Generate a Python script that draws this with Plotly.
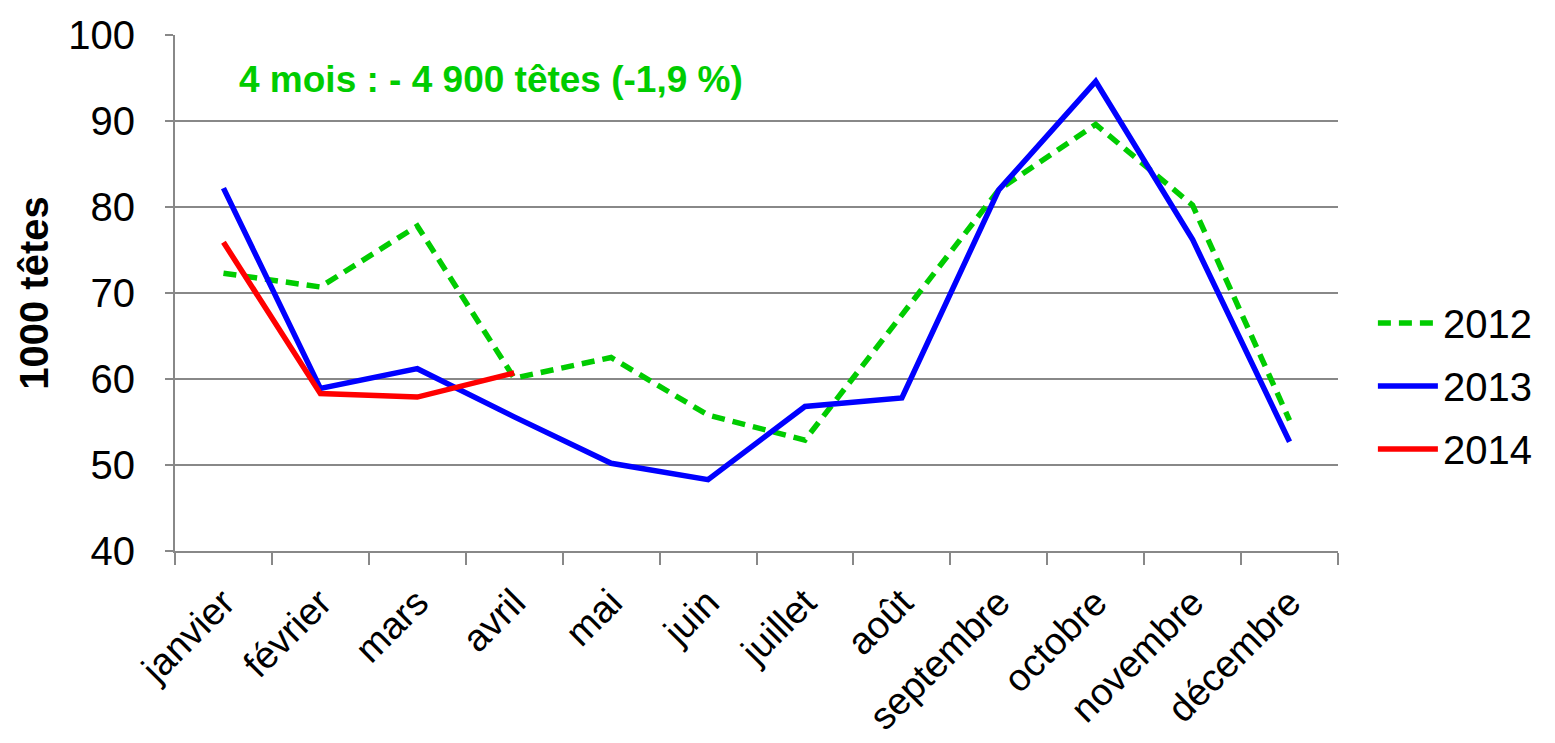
import plotly.graph_objects as go

months = ["janvier", "février", "mars", "avril", "mai", "juin", "juillet",
          "août", "septembre", "octobre", "novembre", "décembre"]

# 1000 têtes
y2012 = [72.3, 70.7, 77.8, 60.1, 62.5, 55.8, 52.9, 67.4, 82.0, 89.6, 80.2, 55.2]
y2013 = [82.2, 58.9, 61.2, 55.6, 50.2, 48.3, 56.8, 57.8, 82.0, 94.6, 76.2, 52.7]
y2014 = [75.9, 58.3, 57.9, 60.7]

fig = go.Figure()
fig.add_trace(go.Scatter(x=months, y=y2012, name="2012", mode="lines", legendgroup="a",
                         line=dict(color="#00CC00", width=5.5, dash="13px,8px")))
fig.add_trace(go.Scatter(x=months, y=y2013, name="2013", mode="lines", legendgroup="b",
                         line=dict(color="#0000FF", width=5.5)))
fig.add_trace(go.Scatter(x=months[:len(y2014)], y=y2014, name="2014", mode="lines",
                         legendgroup="c", line=dict(color="#FF0000", width=5.5)))

fig.add_annotation(text="<b>4 mois : - 4 900 têtes (-1,9 %)</b>",
                   xref="paper", yref="paper", x=0.053, y=0.913,
                   xanchor="left", yanchor="middle", showarrow=False,
                   font=dict(family="Liberation Sans", size=37, color="#00CC00"))

fig.update_xaxes(
    range=[-0.5, 11.5], automargin=False,
    tickangle=-45, tickson="boundaries", ticks="outside", ticklen=12,
    tickcolor="#888888", tickwidth=2, showline=True, linecolor="#888888",
    linewidth=2, showgrid=False, ticklabelstandoff=12,
    tickfont=dict(family="Liberation Sans", size=38, color="black"),
)
fig.update_yaxes(
    range=[40, 100], dtick=10, automargin=False,
    ticks="outside", ticklen=8,
    tickcolor="#888888", tickwidth=2, showline=True, linecolor="#888888",
    linewidth=2, gridcolor="#888888", gridwidth=2, zeroline=False,
    ticklabelstandoff=22,
    tickfont=dict(family="Liberation Sans", size=40, color="black"),
    title=dict(text="<b>1000 têtes</b>", standoff=7,
               font=dict(family="Liberation Sans", size=40, color="black")),
)

fig.update_layout(
    width=1555, height=743,
    margin=dict(l=167, r=225, t=27, b=200),
    plot_bgcolor="white", paper_bgcolor="white",
    font=dict(family="Liberation Sans", color="black"),
    legend=dict(x=1.03, y=0.32, xanchor="left", yanchor="middle",
                font=dict(family="Liberation Sans", size=40),
                tracegroupgap=8, itemwidth=60),
)

fig.write_html("out.html")
